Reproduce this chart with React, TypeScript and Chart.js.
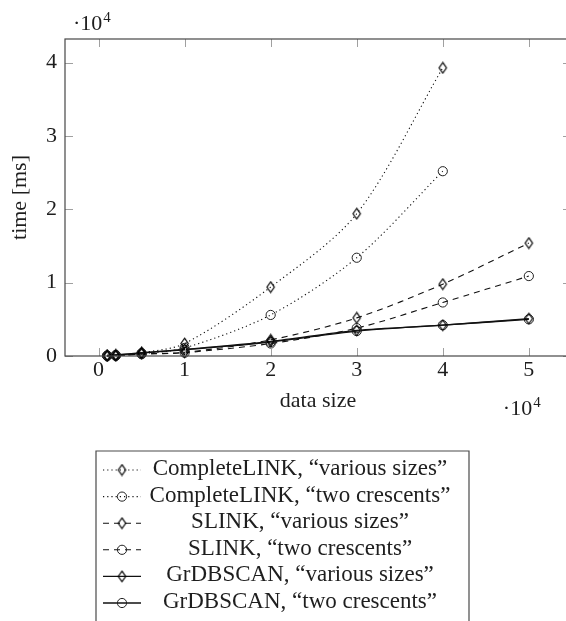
import React, { useEffect, useRef } from "react";
import { Chart, registerables } from "chart.js";

Chart.register(...registerables);

// ---- data (time in ms vs data size) ----
const xValues = [1000, 2000, 5000, 10000, 20000, 30000, 40000, 50000];
const completeLinkVarious = [10, 40, 450, 1700, 9400, 19400, 39300];
const completeLinkCrescents = [10, 30, 300, 1100, 5600, 13400, 25200];
const slinkVarious = [20, 60, 300, 500, 2200, 5200, 9800, 15400];
const slinkCrescents = [20, 50, 250, 450, 1700, 3800, 7300, 10900];
const grdbscanVarious = [80, 150, 450, 900, 2000, 3500, 4200, 5100];
const grdbscanCrescents = [70, 140, 400, 850, 1900, 3400, 4200, 5000];

const seriesLabels = [
  "CompleteLINK, \u201Cvarious sizes\u201D",
  "CompleteLINK, \u201Ctwo crescents\u201D",
  "SLINK, \u201Cvarious sizes\u201D",
  "SLINK, \u201Ctwo crescents\u201D",
  "GrDBSCAN, \u201Cvarious sizes\u201D",
  "GrDBSCAN, \u201Ctwo crescents\u201D",
];
const seriesValues = [
  completeLinkVarious,
  completeLinkCrescents,
  slinkVarious,
  slinkCrescents,
  grdbscanVarious,
  grdbscanCrescents,
];
const seriesMarkers = ["diamond", "circle", "diamond", "circle", "diamond", "circle"];
const seriesDashes = [[1.2, 3], [1.2, 3], [6, 5], [6, 5], [], []];

const xTicks = [0, 10000, 20000, 30000, 40000, 50000];
const yTicks = [0, 10000, 20000, 30000, 40000];
const xMin = -3900;
const xMax = 54900;
const yMin = 0;
const yMax = 43230;
const xTitle = "data size";
const yTitle = "time [ms]";

const FONT = '"Liberation Serif", "Times New Roman", serif';
const INK = "#1e1e1e";

function makeDiamond(): HTMLCanvasElement {
  const c = document.createElement("canvas");
  c.width = 11;
  c.height = 13;
  const g = c.getContext("2d")!;
  g.strokeStyle = "#000";
  g.lineWidth = 1.2;
  g.beginPath();
  g.moveTo(5.5, 1.2);
  g.lineTo(9.2, 6.5);
  g.lineTo(5.5, 11.8);
  g.lineTo(1.8, 6.5);
  g.closePath();
  g.stroke();
  return c;
}

export default function App() {
  const ref = useRef<HTMLCanvasElement | null>(null);

  useEffect(() => {
    const canvas = ref.current;
    if (!canvas) return;
    const diamond = makeDiamond();

    const datasets = seriesValues.map((vals, i) => ({
      label: seriesLabels[i],
      data: vals.map((v, j) => ({ x: xValues[j], y: v })),
      borderColor: "#111",
      borderWidth: i >= 4 ? 1.3 : 1.1,
      borderDash: seriesDashes[i],
      backgroundColor: "rgba(0,0,0,0)",
      pointStyle: seriesMarkers[i] === "diamond" ? diamond : "circle",
      pointRadius: 4.6,
      pointBorderWidth: 1,
      pointBorderColor: "#222",
      pointBackgroundColor: "rgba(0,0,0,0)",
      tension: 0.3,
      clip: false as any,
      fill: false,
    }));

    const decor = {
      id: "decor",
      afterDraw(chart: any) {
        const { ctx, chartArea: a, scales } = chart;
        const xs = scales.x;
        const ys = scales.y;
        ctx.save();
        // inner tick marks
        ctx.strokeStyle = "#a0a0a0";
        ctx.lineWidth = 1;
        ctx.beginPath();
        xTicks.forEach((v) => {
          const px = Math.round(xs.getPixelForValue(v)) + 0.5;
          ctx.moveTo(px, a.bottom);
          ctx.lineTo(px, a.bottom - 8);
          ctx.moveTo(px, a.top);
          ctx.lineTo(px, a.top + 8);
        });
        yTicks.forEach((v) => {
          const py = Math.round(ys.getPixelForValue(v)) + 0.5;
          ctx.moveTo(a.left, py);
          ctx.lineTo(a.left + 8, py);
          ctx.moveTo(a.right, py);
          ctx.lineTo(a.right - 8, py);
        });
        ctx.stroke();
        // axis box
        ctx.strokeStyle = "#474747";
        ctx.lineWidth = 1.2;
        ctx.strokeRect(a.left, a.top, a.right - a.left, a.bottom - a.top);

        // multipliers
        ctx.fillStyle = INK;
        ctx.textBaseline = "alphabetic";
        ctx.textAlign = "left";
        const drawMult = (x0: number, base: number) => {
          ctx.font = `22px ${FONT}`;
          ctx.fillText("\u00B710", x0, base);
          const w = ctx.measureText("\u00B710").width;
          ctx.font = `15px ${FONT}`;
          ctx.fillText("4", x0 + w + 1, base - 8);
        };
        drawMult(a.left + 8, a.top - 9);
        drawMult(xs.getPixelForValue(50000) - 26, a.bottom + 59);

        // legend box
        const L = 96, R = 469, T = 451;
        ctx.strokeStyle = "#4a4a4a";
        ctx.lineWidth = 1.2;
        ctx.beginPath();
        ctx.moveTo(L, 700);
        ctx.lineTo(L, T);
        ctx.lineTo(R, T);
        ctx.lineTo(R, 700);
        ctx.stroke();
        seriesLabels.forEach((lab, i) => {
          const ry = 470 + i * 26.6;
          ctx.strokeStyle = "#111";
          ctx.lineWidth = i >= 4 ? 1.3 : 1.1;
          ctx.setLineDash(seriesDashes[i]);
          ctx.beginPath();
          ctx.moveTo(103, ry);
          ctx.lineTo(141, ry);
          ctx.stroke();
          ctx.setLineDash([]);
          ctx.lineWidth = 1;
          ctx.strokeStyle = "#222";
          if (seriesMarkers[i] === "diamond") {
            ctx.drawImage(diamond, 122 - diamond.width / 2, ry - diamond.height / 2);
          } else {
            ctx.beginPath();
            ctx.arc(122, ry, 4.6, 0, Math.PI * 2);
            ctx.stroke();
          }
          ctx.fillStyle = INK;
          ctx.font = `23px ${FONT}`;
          ctx.textAlign = "center";
          ctx.textBaseline = "middle";
          ctx.fillText(lab, 300, ry - 1);
        });
        ctx.restore();
      },
    };

    const chart = new Chart(canvas, {
      type: "line",
      data: { datasets: datasets as any },
      options: {
        animation: false,
        responsive: false,
        events: [],
        devicePixelRatio: 1,
        layout: { padding: { left: 0, top: 39, right: 29, bottom: 195 } },
        plugins: { legend: { display: false }, tooltip: { enabled: false }, title: { display: false } },
        scales: {
          x: {
            type: "linear",
            min: xMin,
            max: xMax,
            grid: { display: false, drawTicks: false },
            border: { display: false },
            afterFit: (s: any) => {
              s.height = 70;
            },
            afterBuildTicks: (s: any) => {
              s.ticks = xTicks.map((v) => ({ value: v }));
            },
            ticks: {
              padding: 1,
              color: INK,
              font: { family: FONT, size: 22 },
              maxRotation: 0,
              autoSkip: false,
              callback: (v: any) => String(Number(v) / 10000),
            },
            title: {
              display: true,
              text: xTitle,
              color: INK,
              font: { family: FONT, size: 22 },
              padding: { top: 0, bottom: 12 },
            },
          },
          y: {
            type: "linear",
            min: yMin,
            max: yMax,
            grid: { display: false, drawTicks: false },
            border: { display: false },
            afterFit: (s: any) => {
              s.width = 65;
            },
            afterBuildTicks: (s: any) => {
              s.ticks = yTicks.map((v) => ({ value: v }));
            },
            ticks: {
              padding: 8,
              color: INK,
              font: { family: FONT, size: 22 },
              autoSkip: false,
              callback: (v: any) => String(Number(v) / 10000),
            },
            title: {
              display: true,
              text: yTitle,
              color: INK,
              font: { family: FONT, size: 22 },
              padding: { top: 7, bottom: 0 },
            },
          },
        },
      },
      plugins: [decor],
    });
    return () => chart.destroy();
  }, []);

  return (
    <div
      style={{
        position: "absolute",
        left: 0,
        top: 0,
        width: 566,
        height: 621,
        overflow: "hidden",
        background: "#fff",
      }}
    >
      <canvas ref={ref} width={600} height={621} style={{ display: "block", width: 600, height: 621 }} />
    </div>
  );
}
